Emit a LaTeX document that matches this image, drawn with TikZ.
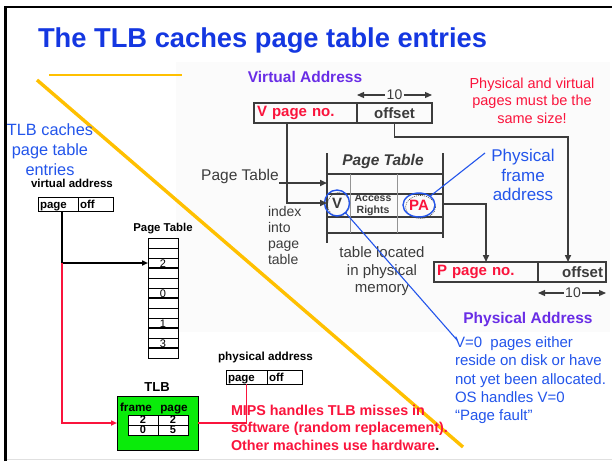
\documentclass[tikz,border=0pt]{standalone}
\usepackage{fontspec}
\setmainfont{Liberation Sans}
\usetikzlibrary{shapes.geometric,arrows.meta}
\definecolor{ttlblue}{RGB}{20,55,225}
\definecolor{txtblue}{RGB}{35,85,235}
\definecolor{myred}{RGB}{250,20,60}
\definecolor{mypurple}{RGB}{105,45,230}
\definecolor{myyellow}{RGB}{255,192,0}
\definecolor{mygreen}{RGB}{10,235,10}
\definecolor{shotgray}{RGB}{60,60,60}
\definecolor{shotbg}{RGB}{251,251,251}
\newcommand{\fsz}[2]{\fontsize{#1}{#2}\selectfont}
\begin{document}
\begin{tikzpicture}[x=1pt,y=-1pt,
  every node/.style={inner sep=0pt,outer sep=0pt},
  arrtip/.style={-{Triangle[length=6pt,width=5pt]}},
  smallbox/.style={draw=black,line width=0.8pt,minimum height=14pt,inner xsep=2pt,text height=10pt,text depth=1pt,align=left,font=\fsz{11.5}{12}\bfseries},
  ptrow/.style={draw=black,line width=0.6pt,minimum width=30pt,minimum height=10pt},
  tcell/.style={draw=black,line width=0.8pt,fill=white,minimum width=30pt,minimum height=10pt,font=\fsz{11}{11}\bfseries},
  shotbox/.style={draw=shotgray,line width=1.5pt,minimum height=20pt,inner xsep=3pt,font=\fsz{15}{16}\bfseries},
  shotln/.style={draw=shotgray,line width=1.6pt},
  shottip/.style={-{Triangle[length=7pt,width=6pt]}},
  tenlbl/.style={font=\fsz{14}{14},text=shotgray,inner xsep=1.5pt},
  blueln/.style={draw=txtblue,line width=1.1pt},
]
\useasboundingbox (0,0) rectangle (612,461);
\fill[white] (0,0) rectangle (612,461);
\fill[shotbg] (176,62) rectangle (610,332);
% slide frame
\draw[line width=2.5pt] (5.5,461) -- (5.5,7) -- (612,7);
\draw[black!12,line width=0.8pt] (7,459) -- (612,459);
% yellow decoration
\draw[myyellow,line width=2pt] (49,75) -- (182,75);
\draw[myyellow,line width=3.4pt] (37,80) -- (463,447);

% title
\node[anchor=base west,text=ttlblue,font=\fsz{27.3}{30}\bfseries] (title) at (38,47) {The TLB caches page table entries};

% ---------- left part ----------
\node[anchor=north,align=center,text=txtblue,font=\fsz{16.3}{20}] (tlbnote) at (50,124) {TLB caches\\page table\\entries};
\node[anchor=base,font=\fsz{11.5}{12}\bfseries] (valbl) at (72,187) {virtual address};
\node[smallbox,text width=36pt] (vpage) at (58,204) {page};
\node[smallbox,text width=31pt] (voff) at (95.5,204) {off};

\node[anchor=base,font=\fsz{11.4}{12}\bfseries] (ptlbl) at (163,231) {Page Table};
\foreach \i in {0,...,11} {\node[ptrow] (pt\i) at (163,{243+10*\i}) {};}
\foreach \i in {2,5,8,10} {\draw[line width=1.3pt] (pt\i.south west) -- (pt\i.south east);}
\node[anchor=base,font=\fsz{11}{11}] (n2) at (163,267.5) {2};
\node[anchor=base,font=\fsz{11}{11}] (n0) at (163,297.5) {0};
\node[anchor=base,font=\fsz{11}{11}] (n1) at (163,327.5) {1};
\node[anchor=base,font=\fsz{11}{11}] (n3) at (163,347.5) {3};

\node[anchor=base,font=\fsz{13}{13}\bfseries] (tlblbl) at (157,391.5) {TLB};
\node[draw=black,line width=0.9pt,fill=mygreen,minimum width=81pt,minimum height=54pt] (tlb) at (157.5,423) {};
\node[anchor=base,font=\fsz{11.7}{12}\bfseries] (frl) at (136,411) {frame};
\node[anchor=base,font=\fsz{11.7}{12}\bfseries] (pgl) at (174,411) {page};
\node[tcell] (c11) at (143,420) {2};
\node[tcell] (c12) at (173,420) {2};
\node[tcell] (c21) at (143,430) {0};
\node[tcell] (c22) at (173,430) {5};

\node[anchor=base,font=\fsz{11.7}{12}\bfseries] (palbl) at (265.5,360) {physical address};
\node[smallbox,text width=37pt] (ppage) at (246.5,377) {page};
\node[smallbox,text width=31pt] (poff) at (284.5,377) {off};

\node[anchor=north west,align=left,text=myred,font=\fsz{14.3}{17.5}\bfseries] (mips) at (231,404.7) {MIPS handles TLB misses in\\software (random replacement).\\Other machines use hardware{\color{black}.}};

% left connectors
\path ([xshift=4pt]vpage.south) coordinate (vps);
\coordinate (jn) at (vps |- pt2.west);
\draw[line width=2pt,arrtip] (vps) -- (jn) -- (pt2.west);
\draw[myred,line width=2.2pt,arrtip] (jn) |- (tlb.west);
\draw[myred,line width=1.2pt] (tlb.east) -| (ppage.south);

% ---------- screenshot part ----------
\node[text=mypurple,font=\fsz{15.5}{16}\bfseries] (vaddr) at (305,77) {Virtual Address};
\node[shotbox,text width=97pt,align=left,text=myred] (vpn) at (305.5,113) {V page no.};
\node[shotbox,text width=69pt,align=center,text=shotgray] (vpnoff) at (394.5,113) {offset};
\node[tenlbl] (tenA) at (394.5,95) {10};

\node[anchor=north,align=center,text=myred,font=\fsz{14.5}{17.5}] (samesize) at (532,77.5) {Physical and virtual\\pages must be the\\same size!};

\node[anchor=base,text=shotgray,font=\fsz{15.5}{16}] (ptlabel) at (240,180.5) {Page Table};
\node[anchor=base,text=shotgray,font=\fsz{15.5}{16}\bfseries\itshape] (bigpt) at (383,165.5) {Page Table};

% big page table grid
\draw[shotln] (327,153) -- (327,243);
\draw[shotln] (443,153) -- (443,238);
\foreach \yy in {174,194,217,233} {\draw[shotln] (327,\yy) -- (443,\yy);}
\draw[shotgray!55,line width=1pt] (350,174) -- (350,233);
\draw[shotgray!55,line width=1pt] (397,174) -- (397,233);

\node[anchor=north,align=center,text=shotgray,font=\fsz{10.5}{12}\bfseries] (acc) at (373,194.5) {Access\\Rights};
\draw[black!75,line width=0.6pt,dash pattern=on 1pt off 1pt] (338.5,204.5) ellipse [x radius=11,y radius=12];
\node[ellipse,draw=txtblue,line width=1.4pt,minimum width=25pt,minimum height=26pt,text=shotgray,font=\fsz{15}{15}\bfseries] (vc) at (337,203) {V};
\draw[black!75,line width=0.6pt,dash pattern=on 1pt off 1pt] (420.5,207) ellipse [x radius=15,y radius=11.5];
\node[ellipse,draw=txtblue,line width=1.4pt,minimum width=32pt,minimum height=24pt,text=myred,font=\fsz{15}{15}\bfseries] (pa) at (419,205) {PA};

\node[anchor=north west,align=left,text=shotgray,font=\fsz{14}{16}] (idx) at (268,206.8) {index\\into\\page\\table};
\node[anchor=north,align=center,text=shotgray,font=\fsz{15}{17.5}] (tloc) at (382,247) {table located\\in physical\\memory};

\node[shotbox,text width=98pt,align=left,text=myred] (ppn) at (486,272) {P page no.};
\node[shotbox,text width=62pt,align=right,text=shotgray] (ppoff) at (572,272) {offset};
\node[tenlbl] (tenB) at (573,293) {10};
\node[anchor=base,text=mypurple,font=\fsz{15.5}{16}\bfseries] (paddr) at (528,323.5) {Physical Address};

\node[anchor=north,align=center,text=txtblue,font=\fsz{17}{19.5}] (pfa) at (523,149.6) {Physical\\frame\\address};
\node[anchor=north west,align=left,text=txtblue,font=\fsz{15}{18.3}] (v0) at (455,336.7) {V=0\ \ pages either\\reside on disk or have\\not yet been allocated.\\OS handles V=0\\“Page fault”};

% screenshot connectors
\draw[shotgray,line width=1.2pt,shottip] (tenA.west) -- (tenA.west -| vpnoff.west);
\draw[shotgray,line width=1.2pt,shottip] (tenA.east) -- (tenA.east -| vpnoff.east);
\draw[shotgray,line width=1.2pt,shottip] (tenB.west) -- (tenB.west -| ppoff.west);
\draw[shotgray,line width=1.2pt,shottip] (tenB.east) -- (tenB.east -| ppoff.east);

\coordinate (inA) at (327,183);
\coordinate (inB) at (327,203);
\coordinate (outPA) at (443,204);
\draw[shotln,shottip] (ptlabel.east |- inA) -- (inA);
\path ([xshift=-18.5pt]vpn.south) coordinate (vpnd);
\draw[shotln,shottip] (vpnd) |- (inB);
\coordinate (oc) at (568,137);
\draw[shotln,shottip] (vpnoff.south) |- (oc) -- (oc |- ppoff.north);
\draw[shotln,shottip] (outPA) -| (ppn.north);

\coordinate (pfaend) at (485,153);
\draw[blueln] (pfaend) -- (pa);
\coordinate (v0end) at (457,340);
\draw[blueln] (vc) -- (v0end);
\end{tikzpicture}
\end{document}
